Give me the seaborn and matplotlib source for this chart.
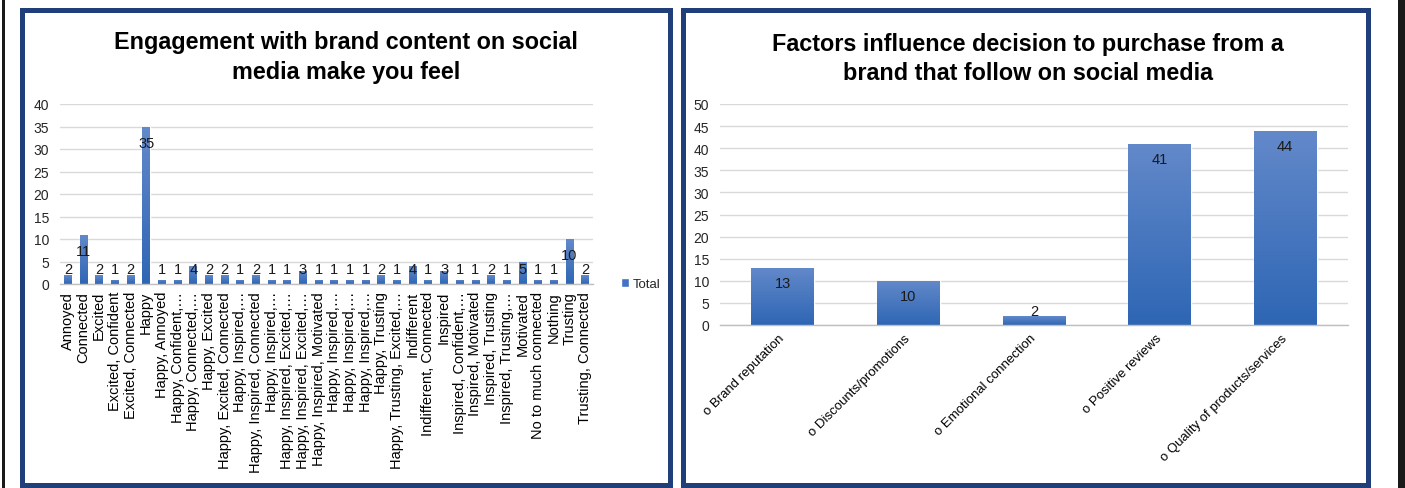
import numpy as np
import pandas as pd
import matplotlib
matplotlib.use("Agg")
import matplotlib.pyplot as plt
import seaborn as sns
from matplotlib.patches import Rectangle, Patch
from matplotlib.colors import LinearSegmentedColormap

# ---------------- data ----------------
feel_labels = [
    "Annoyed", "Connected", "Excited", "Excited, Confident", "Excited, Connected",
    "Happy", "Happy, Annoyed", "Happy, Confident,…", "Happy, Connected,…",
    "Happy, Excited", "Happy, Excited, Connected", "Happy, Inspired,…",
    "Happy, Inspired, Connected", "Happy, Inspired,…", "Happy, Inspired, Excited,…",
    "Happy, Inspired, Excited,…", "Happy, Inspired, Motivated", "Happy, Inspired,…",
    "Happy, Inspired,…", "Happy, Inspired,…", "Happy, Trusting",
    "Happy, Trusting, Excited,…", "Indifferent", "Indifferent, Connected",
    "Inspired", "Inspired, Confident,…", "Inspired, Motivated", "Inspired, Trusting",
    "Inspired, Trusting,…", "Motivated", "No to much connected", "Nothing",
    "Trusting", "Trusting, Connected",
]
feel_values = [2, 11, 2, 1, 2, 35, 1, 1, 4, 2, 2, 1, 2, 1, 1, 3, 1, 1, 1, 1,
               2, 1, 4, 1, 3, 1, 1, 2, 1, 5, 1, 1, 10, 2]

factor_labels = ["o Brand reputation", "o Discounts/promotions",
                 "o Emotional connection", "o Positive reviews",
                 "o Quality of products/services"]
factor_values = [13, 10, 2, 41, 44]

left_title = ["Engagement with brand content on social", "media make you feel"]
right_title = ["Factors influence decision to purchase from a",
               "brand that follow on social media"]

# ---------------- style ----------------
sns.set_theme(style="white")
plt.rcParams["font.family"] = ["Liberation Sans", "DejaVu Sans"]

W, H = 1405, 489
fig = plt.figure(figsize=(W / 100, H / 100), dpi=100)
fig.patch.set_facecolor("white")

BAR = "#4472C4"
FRAME = "#1F3E7A"
grad_cmap = LinearSegmentedColormap.from_list("g", ["#2E66B4", "#6389CA"])


def px_axes(x0, y0, x1, y1):
    return fig.add_axes([x0 / W, 1 - y1 / H, (x1 - x0) / W, (y1 - y0) / H])


def gradient_bars(ax):
    grad = np.linspace(0, 1, 256).reshape(-1, 1)
    for p in list(ax.patches):
        x0, y0 = p.get_x(), p.get_y()
        w, h = p.get_width(), p.get_height()
        im = ax.imshow(grad, extent=[x0, x0 + w, y0, y0 + h], origin="lower",
                       aspect="auto", cmap=grad_cmap, zorder=p.get_zorder() + 0.1)
        im.set_clip_path(p)


def style_axes(ax):
    for s in ["top", "right", "left"]:
        ax.spines[s].set_visible(False)
    ax.spines["bottom"].set_color("#BFBFBF")
    ax.spines["bottom"].set_linewidth(1.0)
    ax.grid(axis="y", color="#D9D9D9", linewidth=1.0)
    ax.set_axisbelow(True)
    ax.tick_params(length=0)
    ax.set_xlabel("")
    ax.set_ylabel("")


# ---------------- left chart ----------------
ax1 = px_axes(60, 105, 593, 285)
df1 = pd.DataFrame({"pos": np.arange(len(feel_values)), "v": feel_values})
sns.barplot(data=df1, x="pos", y="v", ax=ax1, color=BAR, saturation=1, width=0.5)
gradient_bars(ax1)
style_axes(ax1)
ax1.set_xlim(-0.5, len(feel_values) - 0.5)
ax1.set_ylim(0, 40)
ax1.set_yticks(range(0, 41, 5))
ax1.tick_params(axis="y", labelsize=10, labelcolor="#262626", pad=8)
ax1.set_xticks(range(len(feel_labels)))
ax1.set_xticklabels(feel_labels, rotation=90, fontsize=10.5, color="black")
ax1.tick_params(axis="x", pad=5)
for i, v in enumerate(feel_values):
    ax1.text(i, max(v - 3.6, 3.3), str(v), ha="center", va="center",
             fontsize=10.5, color="#1a1a1a", zorder=5)
ax1.legend(handles=[Patch(facecolor=BAR, label="Total")], loc="center left",
           bbox_to_anchor=(1.04, 0.0), frameon=False, fontsize=9.5,
           handlelength=0.6, handleheight=0.6, handletextpad=0.3, borderpad=0)

# ---------------- right chart ----------------
ax2 = px_axes(720, 105, 1348, 326)
df2 = pd.DataFrame({"pos": np.arange(len(factor_values)), "v": factor_values})
sns.barplot(data=df2, x="pos", y="v", ax=ax2, color=BAR, saturation=1, width=0.5)
gradient_bars(ax2)
style_axes(ax2)
ax2.set_xlim(-0.5, len(factor_values) - 0.5)
ax2.set_ylim(0, 50)
ax2.set_yticks(range(0, 51, 5))
ax2.tick_params(axis="y", labelsize=10, labelcolor="#262626", pad=8)
ax2.set_xticks(range(len(factor_labels)))
ax2.set_xticklabels(factor_labels, rotation=45, ha="right", va="center",
                    rotation_mode="anchor", fontsize=9.5, color="black")
ax2.tick_params(axis="x", pad=8)
for i, v in enumerate(factor_values):
    ax2.text(i, max(v - 3.4, 3.2), str(v), ha="center", va="center",
             fontsize=10.5, color="#1a1a1a", zorder=5)

# ---------------- titles ----------------
for k, line in enumerate(left_title):
    fig.text(346 / W, 1 - (43 + 30 * k) / H, line, ha="center", va="center",
             fontsize=16.8, fontweight="bold", color="black")
for k, line in enumerate(right_title):
    fig.text(1028 / W, 1 - (45 + 29 * k) / H, line, ha="center", va="center",
             fontsize=16.8, fontweight="bold", color="black")

# ---------------- frames ----------------
def px_rect(x0, y0, x1, y1, **kw):
    r = Rectangle((x0 / W, 1 - y1 / H), (x1 - x0) / W, (y1 - y0) / H,
                  transform=fig.transFigure, **kw)
    fig.add_artist(r)

px_rect(22, 10.5, 670, 486, fill=False, edgecolor=FRAME, linewidth=3.6)
px_rect(682.5, 10.5, 1367.5, 486, fill=False, edgecolor=FRAME, linewidth=3.6)
px_rect(1.5, 0, 5, 489, facecolor="#1a1a1a", edgecolor="none")
px_rect(1398, 0, 1405, 489, facecolor="#1a1a1a", edgecolor="none")

fig.savefig("out.png", dpi=100, facecolor="white")
